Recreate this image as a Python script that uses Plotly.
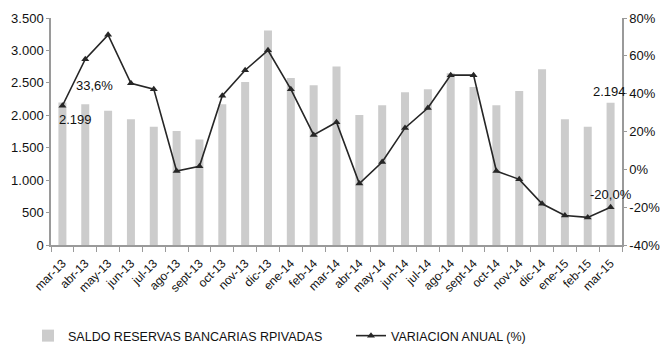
import plotly.graph_objects as go

months = ["mar-13", "abr-13", "may-13", "jun-13", "jul-13", "ago-13", "sept-13", "oct-13",
          "nov-13", "dic-13", "ene-14", "feb-14", "mar-14", "abr-14", "may-14", "jun-14",
          "jul-14", "ago-14", "sept-14", "oct-14", "nov-14", "dic-14", "ene-15", "feb-15", "mar-15"]

saldo_reservas = [2199, 2170, 2070, 1937, 1824, 1758, 1625, 2170, 2514, 3306, 2575, 2463,
                  2754, 2003, 2156, 2355, 2401, 2650, 2437, 2156, 2376, 2708, 1937, 1824, 2194]

variacion_anual = [33.6, 58.2, 71.1, 45.5, 42.4, -0.9, 1.6, 38.9, 52.4, 62.9, 42.4, 18.2,
                   24.9, -7.5, 3.9, 21.9, 32.4, 49.8, 49.8, -0.9, -5.3, -18.2, -24.4, -25.4, -20.0]

left_ticks = [0, 500, 1000, 1500, 2000, 2500, 3000, 3500]
right_ticks = [-40, -20, 0, 20, 40, 60, 80]
right_tick_text = ["-40%", "-20%", "0%", "20%", "40%", "60%", "80%"]

FONT = "Liberation Sans, Arial, Helvetica, sans-serif"
AXIS_COLOR = "#9a9a9a"

fig = go.Figure()
fig.add_trace(go.Bar(
    x=months, y=saldo_reservas, name="SALDO RESERVAS BANCARIAS RPIVADAS",
    marker=dict(color="#cccccc", line=dict(width=0)), yaxis="y", legend="legend",
))
fig.add_trace(go.Scatter(
    x=months, y=variacion_anual, name="VARIACION ANUAL (%)", yaxis="y2",
    mode="lines+markers", legend="legend2",
    line=dict(color="#262626", width=1.6),
    marker=dict(symbol="triangle-up", size=7, color="#262626"),
))

annotations = [
    dict(x=months[0], y=saldo_reservas[0], xref="x", yref="y", text="2.199",
         showarrow=False, xshift=13, yshift=-17),
    dict(x=months[0], y=variacion_anual[0], xref="x", yref="y2", text="33,6%",
         showarrow=False, xshift=32, yshift=20),
    dict(x=months[-1], y=saldo_reservas[-1], xref="x", yref="y", text="2.194",
         showarrow=False, xshift=-1, yshift=11),
    dict(x=months[-1], y=variacion_anual[-1], xref="x", yref="y2", text="-20,0%",
         showarrow=False, xshift=0, yshift=13),
]

legend_common = dict(orientation="h", yref="container", yanchor="middle",
                     y=(344 - 336) / 344, xref="container", xanchor="left",
                     font=dict(size=12.5, family=FONT), itemwidth=30,
                     bgcolor="rgba(0,0,0,0)")

fig.update_layout(
    width=661, height=344,
    margin=dict(l=51, r=39, t=18, b=99, autoexpand=False),
    paper_bgcolor="white", plot_bgcolor="white",
    font=dict(family=FONT, size=13, color="#111111"),
    separators=",.",
    bargap=0.65,
    showlegend=True,
    legend=dict(x=28 / 661, **legend_common),
    legend2=dict(x=351 / 661, **legend_common),
    xaxis=dict(
        type="category", range=[-0.5, len(months) - 0.5], tickangle=-45,
        tickson="boundaries", ticks="outside", automargin=False,
        ticklabelstandoff=5,
        ticklen=5, tickcolor=AXIS_COLOR, showline=True, linecolor=AXIS_COLOR,
        linewidth=1.5, showgrid=False, tickfont=dict(size=12), zeroline=False,
    ),
    yaxis=dict(
        range=[0, 3500], tickvals=left_ticks, tickformat=",d", showgrid=False,
        showline=True, linecolor=AXIS_COLOR, linewidth=1.5, ticks="outside",
        ticklen=3, tickcolor=AXIS_COLOR, zeroline=False, tickfont=dict(size=13),
        automargin=False,
    ),
    yaxis2=dict(
        range=[-40, 80], tickmode="array", tickvals=right_ticks, ticktext=right_tick_text,
        overlaying="y", side="right", showgrid=False, showline=True,
        linecolor=AXIS_COLOR, linewidth=1.5, ticks="outside", ticklen=3,
        tickcolor=AXIS_COLOR, zeroline=False, tickfont=dict(size=13), automargin=False,
    ),
    annotations=annotations,
)

fig.write_html("out.html")
